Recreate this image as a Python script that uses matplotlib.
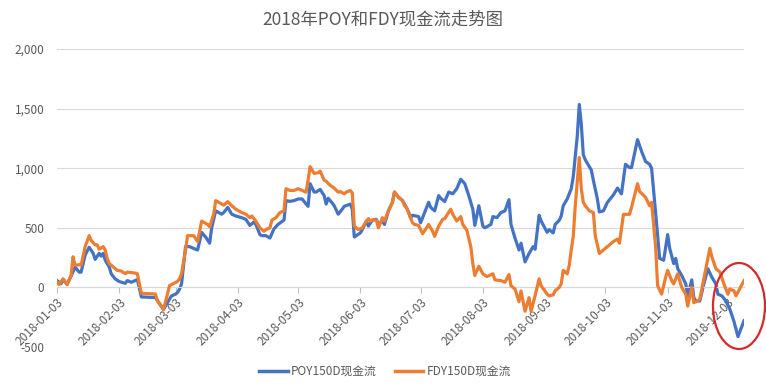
import matplotlib
matplotlib.use("Agg")
import matplotlib.pyplot as plt
import matplotlib.ticker as mticker
from matplotlib.patches import Ellipse
import pandas as pd

plt.rcParams['font.family'] = ['Noto Sans CJK SC', 'DejaVu Sans']

title = "2018年POY和FDY现金流走势图"
series_names = ["POY150D现金流", "FDY150D现金流"]
start_date = "2018-01-03"
tick_dates = ["2018-01-03", "2018-02-03", "2018-03-03", "2018-04-03", "2018-05-03", "2018-06-03",
              "2018-07-03", "2018-08-03", "2018-09-03", "2018-10-03", "2018-11-03", "2018-12-03"]
y_ticks = [-500, 0, 500, 1000, 1500, 2000]

# days since 2018-01-03 and values
poy_days = [0, 2, 3, 5, 7, 9, 11, 12, 14, 16, 18, 19, 21, 22, 23, 24, 26, 27, 29, 31, 34, 35, 37, 40, 42, 49,
            53, 55, 57, 59, 60, 61, 62, 64, 66, 69, 70, 72, 74, 76, 77, 79, 82, 83, 85, 87, 89, 92, 94, 96,
            98, 99, 101, 102, 104, 106, 108, 110, 113, 114, 116, 118, 120, 122, 125, 126, 128, 129, 131, 133,
            134, 135, 137, 138, 140, 142, 143, 146, 147, 148, 151, 152, 154, 155, 157, 159, 160, 162, 163, 165,
            167, 168, 170, 172, 173, 175, 176, 177, 180, 181, 183, 185, 186, 188, 190, 191, 193, 195, 197, 199,
            201, 203, 205, 207, 208, 210, 212, 213, 216, 217, 219, 221, 223, 225, 226, 228, 230, 231, 233, 235,
            237, 238, 240, 241, 244, 245, 247, 248, 250, 251, 252, 254, 256, 257, 259, 260, 261, 262, 263, 266,
            267, 269, 270, 272, 274, 277, 279, 281, 283, 285, 286, 289, 291, 293, 295, 296, 298, 300, 302, 304,
            305, 307, 308, 309, 311, 313, 314, 316, 317, 318, 320, 322, 324, 326, 328, 329, 331, 333, 335, 337,
            339, 342]
poy_values = [57, 31, 66, 26, 94, 171, 128, 128, 271, 337, 286, 235, 286, 262, 286, 228, 171, 114, 71, 49, 34, 57, 43, 66, -80, -85,
              -185, -128, -71, -57, -43, -14, 29, 342, 342, 320, 314, 462, 422, 371, 500, 642, 614, 628, 671, 614, 599, 585, 571, 520,
              548, 528, 443, 434, 434, 414, 491, 528, 565, 728, 722, 728, 742, 742, 680, 870, 800, 800, 822, 770,
              699, 748, 708, 685, 614, 656, 680, 699, 656, 423, 457, 485, 556, 514, 565, 571, 528, 556, 528, 642,
              714, 800, 756, 728, 699, 633, 585, 605, 594, 542, 628, 714, 672, 642, 770, 748, 720, 800, 785, 828,
              907, 870, 770, 656, 520, 685, 514, 500, 528, 594, 585, 628, 642, 736, 528, 414, 314, 371, 214, 285,
              342, 320, 605, 557, 462, 485, 457, 528, 562, 599, 685, 742, 828, 928, 1270, 1535, 1370, 1113, 1070, 984,
              899, 742, 633, 642, 713, 776, 833, 785, 1033, 1005, 1005, 1240, 1142, 1056, 1033, 999, 628, 243, 228, 443,
              328, 200, 243, 157, 100, 29, -71, 63, -86, -114, -114, 29, 157, 85, 29, -57, -71, -114, -185, -285,
              -413, -280]

fdy_days = [0, 1, 3, 4, 5, 7, 8, 9, 11, 12, 14, 16, 17, 19, 20, 21, 23, 24, 25, 26, 28, 30, 32, 34, 35, 39, 40, 42,
            49, 50, 53, 55, 56, 60, 61, 62, 64, 65, 68, 70, 72, 75, 76, 78, 79, 82, 83, 85, 87, 89, 92, 94, 96,
            97, 99, 101, 103, 104, 106, 107, 109, 111, 113, 114, 116, 118, 120, 122, 124, 125, 126, 128, 130, 131,
            133, 134, 136, 138, 140, 141, 143, 144, 146, 147, 148, 150, 152, 153, 155, 156, 157, 159, 160, 162,
            163, 165, 167, 168, 170, 172, 173, 174, 176, 177, 178, 180, 182, 184, 185, 187, 188, 190, 192, 193,
            196, 197, 199, 201, 202, 204, 206, 207, 208, 210, 212, 214, 217, 218, 221, 223, 225, 226, 228, 230,
            231, 233, 235, 236, 238, 240, 241, 244, 245, 247, 248, 250, 251, 252, 254, 255, 256, 257, 258, 260,
            261, 262, 263, 265, 267, 268, 270, 272, 274, 277, 279, 280, 282, 285, 286, 289, 290, 293, 295, 296,
            298, 299, 301, 303, 304, 306, 307, 309, 311, 313, 314, 316, 317, 319, 320, 323, 325, 326, 328, 330,
            332, 334, 335, 337, 338, 342]
fdy_values = [43, 23, 72, 51, 23, 100, 257, 186, 190, 186, 342, 434, 394, 357, 357, 320, 342, 314, 243, 200, 171, 143, 137, 115, 128, 120, 115, -50,
              -55, -114, -185, -57, 15, 50, 72, 115, 314, 434, 434, 385, 556, 528, 508, 614, 728, 699, 690, 719, 685, 656, 628, 614, 585,
              599, 556, 500, 471, 485, 500, 565, 585, 628, 642, 828, 813, 813, 828, 813, 799, 899, 1013, 956, 962, 976,
              899, 890, 856, 833, 799, 804, 785, 799, 813, 793, 514, 485, 499, 528, 577, 556, 565, 565, 499, 585,
              556, 642, 714, 800, 756, 728, 685, 671, 585, 542, 528, 520, 451, 500, 528, 471, 428, 514, 571, 577,
              656, 614, 557, 594, 528, 480, 342, 200, 100, 177, 114, 91, 114, 63, 57, 43, 108, 14, -14, -120,
              -30, -200, -86, -200, -70, 72, 14, -57, -71, -63, -28, 0, 29, 143, 114, 185, 314, 428, 685, 1090,
              828, 713, 685, 642, 628, 428, 285, 314, 342, 385, 405, 371, 613, 613, 671, 870, 805, 756, 685, 714,
              342, 14, -57, 86, 143, 57, 29, 114, 0, -57, -157, 0, -128, -114, -100, 157, 328, 257, 157, 129,
              29, -57, -14, -28, -71, 57]

poy_dates = pd.Timestamp(start_date) + pd.to_timedelta(poy_days, unit="D")
fdy_dates = pd.Timestamp(start_date) + pd.to_timedelta(fdy_days, unit="D")

W, H = 766, 390
fig = plt.figure(figsize=(W / 100, H / 100), dpi=100)
ax = fig.add_axes([57 / W, 1 - 347 / H, (744 - 57) / W, (347 - 49) / H])

blue = "#4472C4"
orange = "#ED7D31"
ax.plot(poy_dates, poy_values, color=blue, lw=2.3, label=series_names[0], zorder=2, solid_joinstyle="round")
ax.plot(fdy_dates, fdy_values, color=orange, lw=2.3, label=series_names[1], zorder=3, solid_joinstyle="round")

ax.set_ylim(-500, 2000)
ax.set_xlim(poy_dates[0], max(poy_dates[-1], fdy_dates[-1]))
ax.set_yticks(y_ticks)
ax.yaxis.set_major_formatter(mticker.FuncFormatter(lambda v, p: f"{v:,.0f}"))
ax.grid(axis="y", color="#D9D9D9", lw=0.8)
ax.set_axisbelow(True)

for s in ["top", "right", "left"]:
    ax.spines[s].set_visible(False)
ax.spines["bottom"].set_position(("data", 0))
ax.spines["bottom"].set_color("#D9D9D9")
ax.spines["bottom"].set_linewidth(0.8)

ticks = pd.to_datetime(tick_dates)
ax.set_xticks(ticks)
ax.set_xticklabels(tick_dates)
ax.tick_params(axis="x", colors="#595959", labelsize=8.5, length=4, width=0.8, color="#BFBFBF", pad=2)
ax.tick_params(axis="y", colors="#595959", labelsize=8.5, length=0, pad=9)
for lab in ax.get_xticklabels():
    lab.set_rotation(45)
    lab.set_ha("right")
    lab.set_va("top")
    lab.set_rotation_mode("anchor")

fig.text(0.5, 1 - 20 / H, title, ha="center", va="center", fontsize=12.5, color="#595959")

leg = fig.legend(loc="center", bbox_to_anchor=(385 / W, 1 - 372 / H), ncol=2, frameon=False,
                 fontsize=8.5, handlelength=2.4, columnspacing=1.5, handletextpad=0.3)
for t in leg.get_texts():
    t.set_color("#595959")
for l in leg.get_lines():
    l.set_linewidth(2.5)

ell = Ellipse(((739 - 57) / (744 - 57), (347 - 306) / (347 - 49)), 52 / (744 - 57), 86 / (347 - 49),
              transform=ax.transAxes, fill=False, edgecolor="#D42A2A", lw=1.6, clip_on=False, zorder=5)
ax.add_patch(ell)

fig.savefig("out.png", dpi=100)
